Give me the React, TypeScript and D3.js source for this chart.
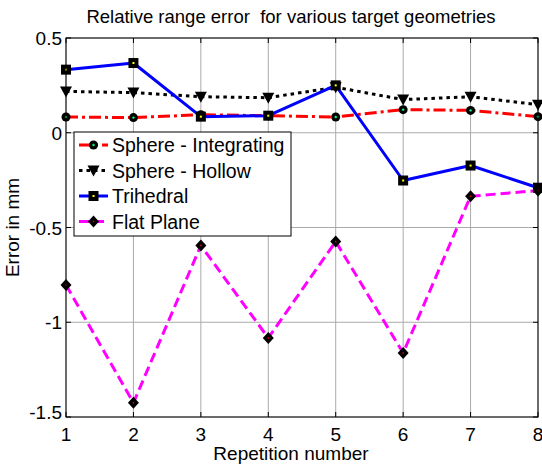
import React from 'react'
import * as d3 from 'd3'

const reps = [1, 2, 3, 4, 5, 6, 7, 8]
const sphereIntegrating = [0.083, 0.08, 0.095, 0.09, 0.083, 0.122, 0.118, 0.085]
const sphereHollow = [0.218, 0.212, 0.19, 0.185, 0.24, 0.175, 0.19, 0.148]
const trihedral = [0.333, 0.368, 0.085, 0.09, 0.25, -0.252, -0.173, -0.29]
const flatPlane = [-0.803, -1.425, -0.595, -1.083, -0.574, -1.162, -0.335, -0.305]
const yTicks = [-1.5, -1, -0.5, 0, 0.5]

const series = [
  { name: 'Sphere - Integrating', values: sphereIntegrating, color: '#ff0000', dash: '12,4,3,4', marker: 'circle', face: '#00ff80' },
  { name: 'Sphere - Hollow', values: sphereHollow, color: '#000000', dash: '3.5,4', marker: 'tri', face: '#000000' },
  { name: 'Trihedral', values: trihedral, color: '#0000ff', dash: '', marker: 'square', face: '#ffff00' },
  { name: 'Flat Plane', values: flatPlane, color: '#ff00ff', dash: '10,5', marker: 'diamond', face: '#ff0000' },
]

const W = 542
const H = 467
const m = { left: 66, right: 538, top: 38, bottom: 417 }
const font = 'Arial, "Liberation Sans", sans-serif'

const Marker = ({ type, x, y, face }: { type: string; x: number; y: number; face: string }) => {
  if (type === 'circle') {
    return (
      <g>
        <circle cx={x} cy={y} r={4.5} fill="#000" />
        <circle cx={x} cy={y} r={1.2} fill={face} />
      </g>
    )
  }
  if (type === 'tri') {
    return <path d={`M${x - 6},${y - 5}L${x + 6},${y - 5}L${x},${y + 6}Z`} fill="#000" />
  }
  if (type === 'square') {
    return (
      <g>
        <rect x={x - 5} y={y - 5} width={10} height={10} fill="#000" />
        <rect x={x - 1} y={y - 1} width={2} height={2} fill={face} />
      </g>
    )
  }
  return (
    <g>
      <path d={`M${x},${y - 6}L${x + 5.5},${y}L${x},${y + 6}L${x - 5.5},${y}Z`} fill="#000" />
      <rect x={x - 0.7} y={y - 0.7} width={1.4} height={1.4} fill={face} />
    </g>
  )
}

export default function App() {
  const x = d3.scaleLinear().domain([1, 8]).range([m.left, m.right])
  const y = d3.scaleLinear().domain([-1.5, 0.5]).range([m.bottom, m.top])
  const line = d3.line<number>().x((_, i) => x(reps[i])).y(d => y(d))

  const legX = 74
  const legY = 132
  const legW = 217
  const legH = 104
  const rowH = 25.5

  return (
    <svg width={W} height={H} style={{ position: 'absolute', left: 0, top: 0 }} fontFamily={font}>
      <rect x={0} y={0} width={W} height={H} fill="#fff" />
      <text x={291} y={23} fontSize={18.5} textAnchor="middle" style={{ whiteSpace: 'pre' }}>Relative range error  for various target geometries</text>

      {reps.map(r => (
        <line key={'gx' + r} x1={x(r)} x2={x(r)} y1={m.top} y2={m.bottom} stroke="#aaa" strokeWidth={1} />
      ))}
      {yTicks.map(t => (
        <line key={'gy' + t} x1={m.left} x2={m.right} y1={y(t)} y2={y(t)} stroke="#aaa" strokeWidth={1} />
      ))}

      {reps.map(r => (
        <g key={'tx' + r}>
          <line x1={x(r)} x2={x(r)} y1={m.bottom} y2={m.bottom - 5} stroke="#000" />
          <line x1={x(r)} x2={x(r)} y1={m.top} y2={m.top + 5} stroke="#000" />
          <text x={x(r)} y={m.bottom + 24} fontSize={19} textAnchor="middle">{r}</text>
        </g>
      ))}
      {yTicks.map(t => (
        <g key={'ty' + t}>
          <line x1={m.left} x2={m.left + 5} y1={y(t)} y2={y(t)} stroke="#000" />
          <line x1={m.right} x2={m.right - 5} y1={y(t)} y2={y(t)} stroke="#000" />
          <text x={m.left - 4} y={y(t) + (t === -1.5 ? 2 : 7)} fontSize={19} textAnchor="end">{t}</text>
        </g>
      ))}

      {series.map(s => (
        <path key={s.name} d={line(s.values) || ''} fill="none" stroke={s.color} strokeWidth={3}
          strokeDasharray={s.dash} strokeLinejoin="round" />
      ))}
      {series.map(s => (
        <g key={s.name + 'm'}>
          {s.values.map((v, i) => (
            <Marker key={i} type={s.marker} x={x(reps[i])} y={y(v)} face={s.face} />
          ))}
        </g>
      ))}

      <rect x={m.left} y={m.top} width={m.right - m.left} height={m.bottom - m.top} fill="none" stroke="#000" strokeWidth={1} />

      <rect x={legX} y={legY} width={legW} height={legH} fill="#fff" stroke="#000" strokeWidth={1} />
      {series.map((s, i) => {
        const cy = legY + 13 + i * rowH
        return (
          <g key={s.name + 'l'}>
            <line x1={79} x2={108} y1={cy} y2={cy} stroke={s.color} strokeWidth={3} strokeDasharray={s.dash} />
            <Marker type={s.marker} x={93.5} y={cy} face={s.face} />
            <text x={112} y={cy + 7} fontSize={19.5}>{s.name}</text>
          </g>
        )
      })}

      <text x={291} y={460} fontSize={19} textAnchor="middle">Repetition number</text>
      <text transform={`translate(19,${(m.top + m.bottom) / 2}) rotate(-90)`} fontSize={19} textAnchor="middle">Error in mm</text>
    </svg>
  )
}
